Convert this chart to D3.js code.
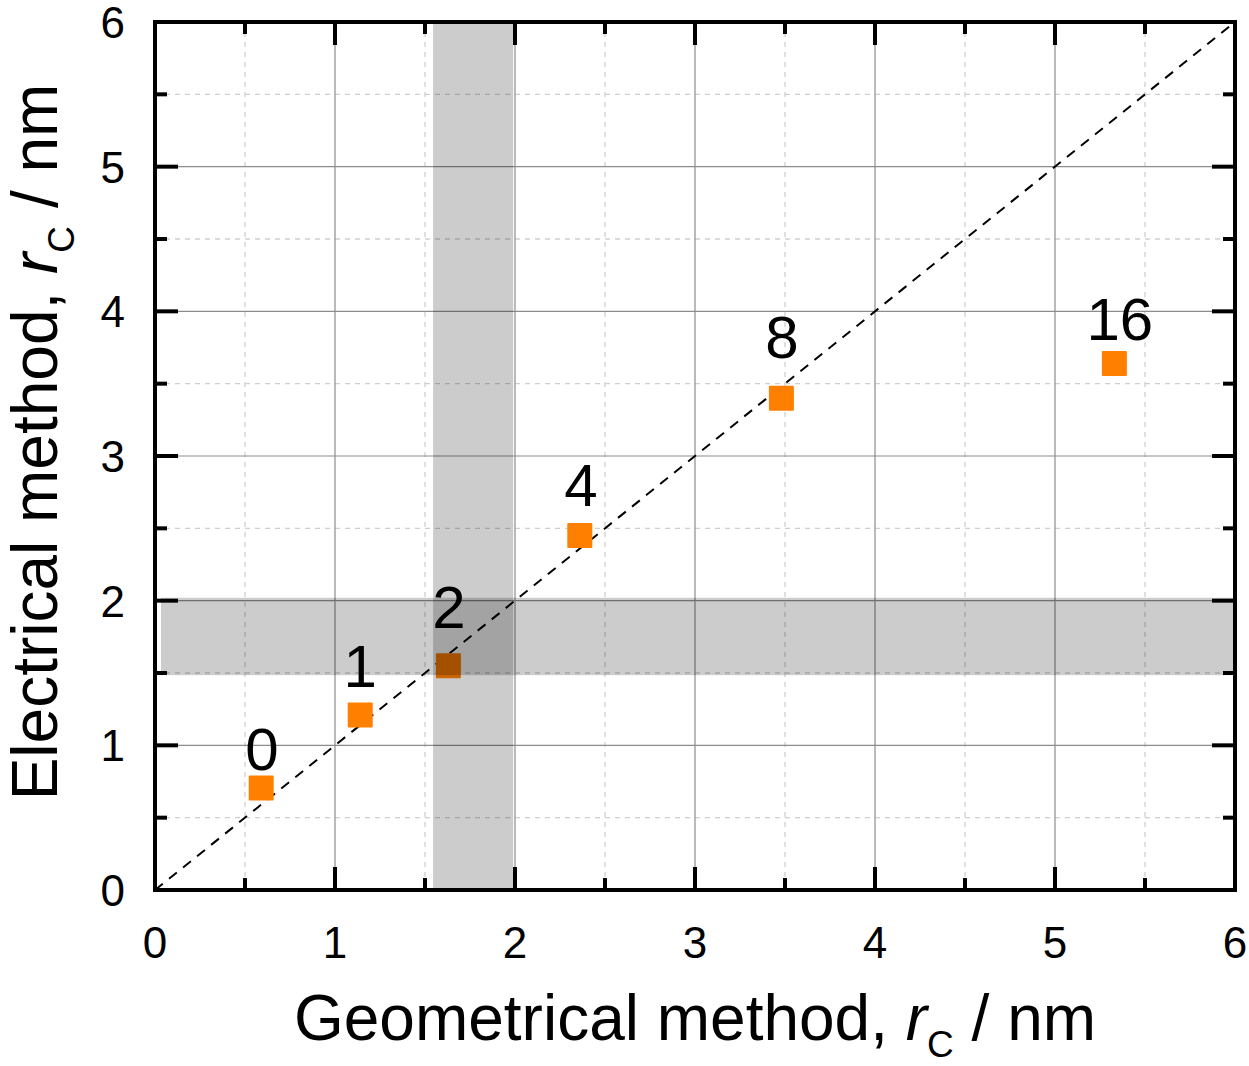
<!DOCTYPE html>
<html>
<head>
<meta charset="utf-8">
<script src="https://cdn.jsdelivr.net/npm/d3@7"></script>
<style>
	body { margin: 0; background: #fff; }
	svg text { font-family: "Liberation Sans", Arial, sans-serif; }
</style>
</head>
<body>
<div id="chart"></div>
<script>
// values
const labels = ['0', '1', '2', '4', '8', '16'];
const geometrical = [0.59, 1.14, 1.63, 2.36, 3.48, 5.33];
const electrical = [0.705, 1.21, 1.55, 2.45, 3.40, 3.64];
// where the number labels sit, in axis units (x centre, y baseline)
const labelX = [0.594, 1.14, 1.633, 2.367, 3.483, 5.36];
const labelY = [0.83, 1.40, 1.81, 2.655, 3.68, 3.80];
const majorTicks = [0, 1, 2, 3, 4, 5, 6];
const minorTicks = [0.5, 1.5, 2.5, 3.5, 4.5, 5.5];
const bandX = [1.545, 1.99];
const bandY = [1.485, 2.02];

const width = 1249, height = 1066;
const margin = {top: 22, right: 14, bottom: 176, left: 155};
const innerW = width - margin.left - margin.right;
const innerH = height - margin.top - margin.bottom;

const x = d3.scaleLinear().domain([0, 6]).range([0, innerW]);
const y = d3.scaleLinear().domain([0, 6]).range([innerH, 0]);

const svg = d3.select('#chart')
	.append('svg')
	.attr('width', width)
	.attr('height', height);

const g = svg.append('g')
	.attr('transform', `translate(${margin.left},${margin.top})`);

// minor grid
g.append('g').selectAll('line.vminor')
	.data(minorTicks)
	.join('line')
	.attr('x1', d => x(d)).attr('x2', d => x(d))
	.attr('y1', 0).attr('y2', innerH)
	.attr('stroke', '#cfcfcf').attr('stroke-width', 1.3)
	.attr('stroke-dasharray', '5,5');
g.append('g').selectAll('line.hminor')
	.data(minorTicks)
	.join('line')
	.attr('y1', d => y(d)).attr('y2', d => y(d))
	.attr('x1', 0).attr('x2', innerW)
	.attr('stroke', '#cfcfcf').attr('stroke-width', 1.3)
	.attr('stroke-dasharray', '5,5');

// major grid
g.append('g').selectAll('line')
	.data(majorTicks.slice(1, -1))
	.join('line')
	.attr('x1', d => x(d)).attr('x2', d => x(d))
	.attr('y1', 0).attr('y2', innerH)
	.attr('stroke', '#8c8c8c').attr('stroke-width', 1.2);
g.append('g').selectAll('line')
	.data(majorTicks.slice(1, -1))
	.join('line')
	.attr('y1', d => y(d)).attr('y2', d => y(d))
	.attr('x1', 0).attr('x2', innerW)
	.attr('stroke', '#8c8c8c').attr('stroke-width', 1.2);

// y = x reference line
g.append('line')
	.attr('x1', x(0)).attr('y1', y(0))
	.attr('x2', x(6)).attr('y2', y(6))
	.attr('stroke', '#000').attr('stroke-width', 2)
	.attr('stroke-dasharray', '10,8');

// markers
const pts = d3.range(labels.length);
g.append('g').selectAll('rect')
	.data(pts)
	.join('rect')
	.attr('x', i => x(geometrical[i]) - 12.5)
	.attr('y', i => y(electrical[i]) - 12.5)
	.attr('width', 25).attr('height', 25)
	.attr('rx', 1)
	.attr('fill', '#ff8000');

// shaded bands
g.append('rect')
	.attr('x', x(bandX[0])).attr('width', x(bandX[1]) - x(bandX[0]))
	.attr('y', 0).attr('height', innerH)
	.attr('fill', '#000').attr('fill-opacity', 0.2);
g.append('rect')
	.attr('x', 6).attr('width', innerW - 6)
	.attr('y', y(bandY[1])).attr('height', y(bandY[0]) - y(bandY[1]))
	.attr('fill', '#000').attr('fill-opacity', 0.2);

// point labels
g.append('g').selectAll('text')
	.data(pts)
	.join('text')
	.attr('x', i => x(labelX[i]))
	.attr('y', i => y(labelY[i]))
	.attr('text-anchor', 'middle')
	.attr('font-size', 60)
	.text(i => labels[i]);

// ticks on all four sides
const tick = (vals, len, side) => g.append('g').selectAll('line')
	.data(vals)
	.join('line')
	.attr('stroke', '#000').attr('stroke-width', 4)
	.each(function (d) {
		const l = d3.select(this);
		if (side === 'bottom') l.attr('x1', x(d)).attr('x2', x(d)).attr('y1', innerH).attr('y2', innerH - len);
		if (side === 'top') l.attr('x1', x(d)).attr('x2', x(d)).attr('y1', 0).attr('y2', len);
		if (side === 'left') l.attr('y1', y(d)).attr('y2', y(d)).attr('x1', 0).attr('x2', len);
		if (side === 'right') l.attr('y1', y(d)).attr('y2', y(d)).attr('x1', innerW).attr('x2', innerW - len);
	});
['bottom', 'top', 'left', 'right'].forEach(s => {
	tick(majorTicks, 23, s);
	tick(minorTicks, 12, s);
});

// frame
g.append('rect')
	.attr('width', innerW).attr('height', innerH)
	.attr('fill', 'none').attr('stroke', '#000').attr('stroke-width', 4);

// tick labels
g.append('g').selectAll('text')
	.data(majorTicks)
	.join('text')
	.attr('x', d => x(d))
	.attr('y', innerH + 68)
	.attr('text-anchor', 'middle')
	.attr('font-size', 44)
	.text(d => d);
g.append('g').selectAll('text')
	.data(majorTicks)
	.join('text')
	.attr('x', -30)
	.attr('y', d => y(d) + 16)
	.attr('text-anchor', 'end')
	.attr('font-size', 44)
	.text(d => d);

// axis titles
const title = (sel) => {
	sel.attr('text-anchor', 'middle').attr('font-size', 64);
	return sel;
};
const xt = g.append('text')
	.attr('transform', `translate(${innerW / 2},${innerH + 150})`)
	.call(title);
xt.append('tspan').text('Geometrical method, ');
xt.append('tspan').attr('font-style', 'italic').text('r');
xt.append('tspan').attr('font-size', 37).attr('dy', 17).text('C');
xt.append('tspan').attr('dy', -17).text(' / nm');

const yt = g.append('text')
	.attr('transform', `translate(-98,${innerH / 2 - 14}) rotate(-90)`)
	.call(title);
yt.append('tspan').text('Electrical method, ');
yt.append('tspan').attr('font-style', 'italic').text('r');
yt.append('tspan').attr('font-size', 37).attr('dy', 17).text('C');
yt.append('tspan').attr('dy', -17).text(' / nm');
</script>
</body>
</html>
